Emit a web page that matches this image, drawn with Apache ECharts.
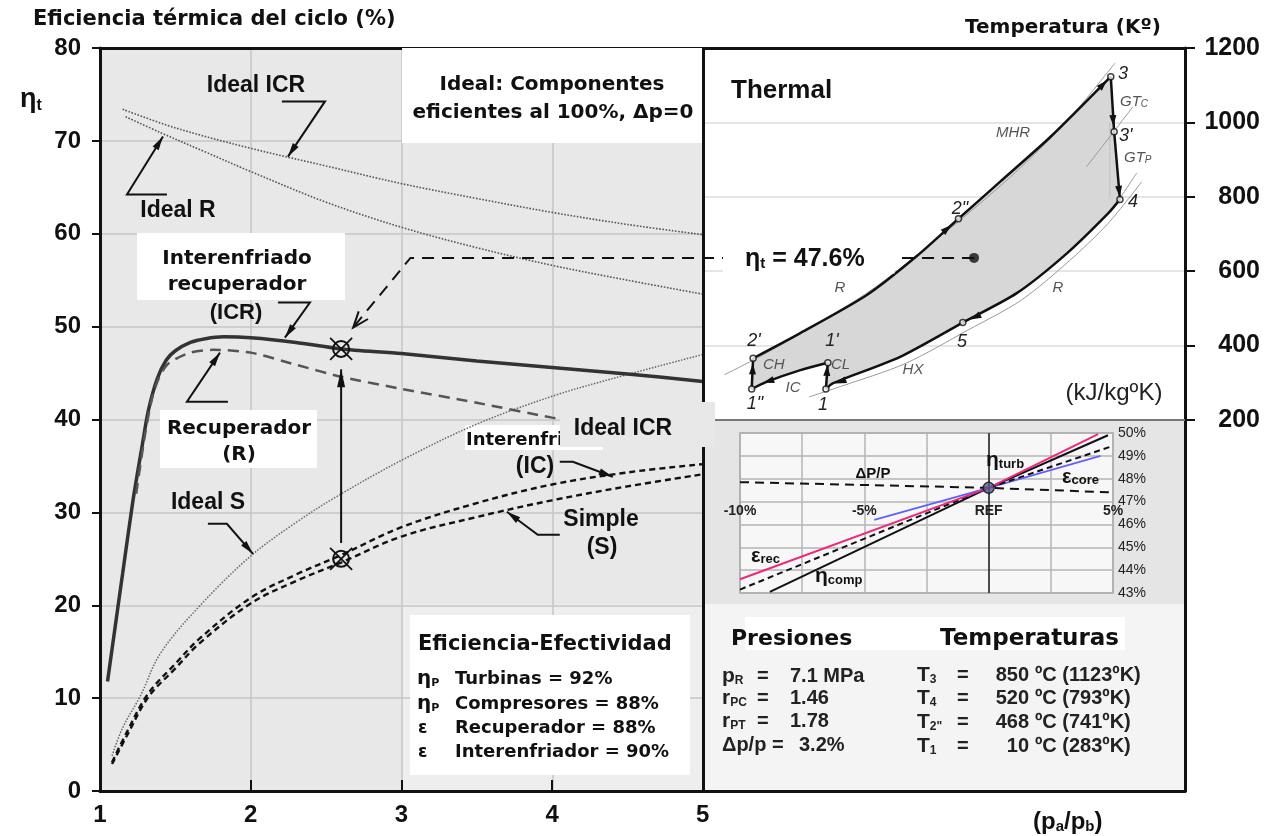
<!DOCTYPE html>
<html>
<head>
<meta charset="utf-8">
<script src="https://cdn.jsdelivr.net/npm/echarts@6/dist/echarts.min.js"></script>
<style>html,body{margin:0;padding:0;background:#fff}#c{width:1271px;height:836px}</style>
</head>
<body>
<div id="c"></div>
<script>
// ---------- efficiency vs. pressure ratio ----------
const ratioTicks = [1, 2, 3, 4, 5];
const idealIcr = [[1.15,73.4],[1.5,71.4],[2.0,69.2],[2.5,67.3],[3.0,65.4],[3.5,63.8],[4.0,62.3],[4.5,61.0],[5.0,59.9]];
const idealR = [[1.17,72.6],[1.4,70.9],[1.7,68.8],[2.0,66.7],[2.5,63.4],[3.0,60.7],[3.5,58.5],[4.0,56.6],[4.5,55.0],[5.0,53.5]];
const idealS = [[1.08,3.8],[1.15,6.8],[1.27,10.3],[1.4,14.8],[1.66,19.9],[2.0,25.3],[2.3,28.9],[2.57,31.7],[3.0,35.6],[3.5,39.5],[4.0,42.5],[4.4,44.4],[5.0,47.0]];
const icr = [[1.05,11.8],[1.1,17.6],[1.15,23.4],[1.22,31.4],[1.28,37.2],[1.32,40.9],[1.38,44.4],[1.44,46.4],[1.5,47.4],[1.6,48.3],[1.7,48.7],[1.82,48.9],[2.0,48.8],[2.3,48.3],[2.6,47.6],[3.0,47.1],[3.5,46.3],[4.0,45.6],[4.5,44.9],[5.0,44.1]];
const recuperated = [[1.24,32.0],[1.3,38.5],[1.35,42.6],[1.4,44.8],[1.46,46.1],[1.6,47.2],[1.75,47.5],[2.0,47.2],[2.3,45.9],[2.6,44.6],[3.0,43.3],[3.5,41.8],[4.0,40.2],[4.5,38.8],[5.0,37.4]];
const intercooled = [[1.08,3.1],[1.18,6.4],[1.32,10.5],[1.5,13.7],[1.66,16.4],[2.0,20.8],[2.3,23.3],[2.6,25.4],[3.0,28.4],[3.5,31.0],[4.0,33.0],[4.5,34.3],[5.0,35.2]];
const simple = [[1.08,2.9],[1.18,6.0],[1.32,10.1],[1.5,13.2],[1.66,15.9],[2.0,20.2],[2.3,22.6],[2.6,24.6],[3.0,27.4],[3.5,29.5],[4.0,31.3],[4.5,32.8],[5.0,34.1]];
const designPoints = [[2.6,47.6],[2.6,25.0]];
const gainArrow = [[2.6,26.7],[2.6,45.4]];
const etaLink = [[6.8,57.4],[3.06,57.4],[2.68,49.9]];
const calloutIdealIcr = [[2.207,74.25],[2.493,74.25],[2.247,68.3]];
const calloutIdealR = [[1.444,64.22],[1.179,64.22],[1.418,70.47]];
const calloutIcr = [[2.181,52.59],[2.393,52.59],[2.227,48.81]];
const calloutR = [[1.849,41.92],[1.577,41.92],[1.796,47.2]];
const calloutIdealS = [[1.716,28.77],[1.842,28.77],[2.015,25.54]];
const calloutIc = [[4.051,35.45],[4.138,35.45],[4.403,33.84]];
const calloutS = [[4.051,27.59],[3.905,27.59],[3.70,30.06]];

// ---------- T-s cycle (entropy, K) ----------
const tsHeating = [[1.04,366],[2.01,433],[3.40,536],[4.43,640],[5.30,741],[6.16,840],[7.20,960],[8.46,1123]];
const tsExpansion = [[8.46,1123],[8.53,975],[8.65,793]];
const tsCooling = [[8.65,793],[8.41,756],[7.55,648],[6.51,541],[5.39,462],[4.09,370],[2.70,299],[2.55,283]];
const tsCompLow = [[2.55,283],[2.59,354]];
const tsIntercool = [[2.59,354],[2.02,334],[1.33,303],[1.01,283]];
const tsCompHigh = [[1.01,283],[1.04,366]];
const tsStates = [[8.46,1123],[8.53,975],[8.65,793],[5.39,462],[5.30,741],[1.04,366],[2.59,354],[1.01,283],[2.55,283]];
const tsIsoHigh = [[0.45,322],[1.2,372],[2.2,446],[3.5,550],[4.6,660],[5.6,766],[6.6,880],[7.6,1010],[8.55,1160]];
const tsIsoLow = [[2.2,262],[2.9,292],[4.2,352],[5.5,442],[6.6,522],[7.6,628],[8.4,728],[9.1,840]];
const tsIsoMid = [[7.96,881],[8.92,1042]];
const tsIsoOut = [[8.49,765],[9.0,864]];
const tsIsentrope = [[8.44,1000],[8.44,795]];
const tsFlow = [[4.9,695,5.15,724],[8.1,1075,8.38,1113],[8.49,1050,8.515,990],[8.6,860,8.645,800],[6.0,500,5.55,470],[3.2,320,2.75,298],[1.7,318,1.25,300],[1.02,300,1.035,352],[2.56,300,2.58,348]];
const tsMeanPoint = [[6.8,57.4]];

// ---------- sensitivity (% change vs. cycle efficiency %) ----------
const sensEpsRec = [[-10,43.6],[0,47.6],[4.4,49.95]];
const sensEtaTurb = [[-10,43.15],[0,47.6],[4.9,49.4]];
const sensEtaComp = [[-8.8,43.05],[0,47.6],[4.8,49.9]];
const sensEpsCore = [[-4.6,46.2],[0,47.6],[4.5,49.0]];
const sensDpp = [[-10,47.85],[0,47.6],[5,47.4]];
const sensRef = [[0,47.6]];

const LS = '"Liberation Sans", Arial, sans-serif';
const DV = '"DejaVu Sans", Verdana, sans-serif';
const INK = '#111';

const chart = echarts.init(document.getElementById('c'), null, {renderer: 'canvas', width: 1271, height: 836});

function headPoints(x1, y1, x2, y2, len, half) {
  const a = Math.atan2(y2 - y1, x2 - x1);
  const bx = x2 - len * Math.cos(a), by = y2 - len * Math.sin(a);
  const nx = -Math.sin(a) * half, ny = Math.cos(a) * half;
  return [[x2, y2], [bx + nx, by + ny], [bx - nx, by - ny]];
}

// polyline with an arrowhead at its last point
function pathSeries(pts, o) {
  o = o || {};
  const color = o.color || INK, lw = o.width || 2;
  return {
    type: 'custom', xAxisIndex: o.xi || 0, yAxisIndex: o.yi || 0, data: pts, z: o.z || 4, silent: true, clip: false,
    renderItem(params, api) {
      if (params.dataIndex !== 0) return null;
      const P = pts.map(p => api.coord(p));
      const ch = [{type: 'polyline', shape: {points: P}, style: {stroke: color, lineWidth: lw, fill: 'none', lineDash: o.dash || null}}];
      const n = P.length;
      if (o.head !== 'none') {
        const H = headPoints(P[n - 2][0], P[n - 2][1], P[n - 1][0], P[n - 1][1], o.len || 14, o.half || 3.5);
        if (o.head === 'open') {
          ch.push({type: 'polyline', shape: {points: [H[1], H[0], H[2]]}, style: {stroke: color, lineWidth: lw, fill: 'none'}});
        } else {
          ch.push({type: 'polygon', shape: {points: H}, style: {fill: color, stroke: 'none'}});
        }
      }
      return {type: 'group', children: ch};
    }
  };
}

function curve(data, style, extra) {
  return Object.assign({
    type: 'line', xAxisIndex: 0, yAxisIndex: 0, data: data, showSymbol: false, symbol: 'none',
    smooth: 0.35, silent: true, lineStyle: style, z: 3
  }, extra || {});
}

function tsLine(data, smooth) {
  return {type: 'line', xAxisIndex: 3, yAxisIndex: 3, data: data, showSymbol: false, symbol: 'none', smooth: smooth || 0,
    silent: true, z: 5, lineStyle: {color: INK, width: 2.5}};
}

function thinLine(data, xi, yi, style) {
  return {type: 'line', xAxisIndex: xi, yAxisIndex: yi, data: data, showSymbol: false, symbol: 'none', smooth: 0.3,
    silent: true, z: 3, lineStyle: style};
}

const rect = (x, y, w, h, fill, z) => ({type: 'rect', silent: true, z: z, shape: {x: x, y: y, width: w, height: h}, style: {fill: fill}});
function txt(x, y, text, font, extra) {
  const st = Object.assign({text: text, font: font, fill: INK, align: 'left', verticalAlign: 'middle'}, extra || {});
  return {type: 'text', x: x, y: y, z: 12, silent: true, style: st};
}
function rich(x, y, text, richDef, extra) {
  const st = Object.assign({text: text, rich: richDef, fill: INK, align: 'left', verticalAlign: 'middle'}, extra || {});
  return {type: 'text', x: x, y: y, z: 12, silent: true, style: st};
}
const sub = (main, subSize, fam, weight, color) => ({
  m: {fontSize: main, fontFamily: fam || LS, fontWeight: weight || 'bold', fill: color || INK},
  s: {fontSize: subSize, fontFamily: fam || LS, fontWeight: weight || 'bold', fill: color || INK, verticalAlign: 'bottom'}
});
const gtRich = {
  m: {fontSize: 15, fontFamily: LS, fontStyle: 'italic', fill: '#555'},
  s: {fontSize: 10, fontFamily: LS, fontStyle: 'italic', fill: '#555', verticalAlign: 'bottom'}
};

const labelFont = {color: INK, fontFamily: LS, fontWeight: 'bold', fontSize: 24};
const TAB = 'bold 20px ' + LS;
const TABC = {fill: '#222'};

const option = {
  backgroundColor: '#ffffff',
  animation: false,
  grid: [
    {left: 100, top: 48, width: 1085, height: 743, outerBoundsMode: 'none', containLabel: false},
    {left: 100, top: 48, width: 603, height: 743, outerBoundsMode: 'none', containLabel: false},
    {left: 703, top: 48, width: 482, height: 372, outerBoundsMode: 'none', containLabel: false},
    {left: 740, top: 433, width: 373, height: 160, outerBoundsMode: 'none', containLabel: false,
      show: true, backgroundColor: '#f7f7f7', borderColor: '#9a9a9a', borderWidth: 1.5}
  ],
  xAxis: [
    {gridIndex: 0, type: 'value', min: 1, max: 8.2, interval: 1, position: 'bottom',
      axisLine: {show: true, onZero: false, lineStyle: {color: INK, width: 3}},
      axisTick: {show: true, inside: true, length: 11, customValues: ratioTicks, lineStyle: {color: INK, width: 2}},
      axisLabel: Object.assign({customValues: ratioTicks, margin: 12, formatter: v => (v <= 5 ? String(v) : '')}, labelFont),
      splitLine: {show: false}},
    {gridIndex: 0, type: 'value', min: 1, max: 8.2, position: 'top',
      axisLine: {show: true, onZero: false, lineStyle: {color: INK, width: 3}},
      axisTick: {show: false}, axisLabel: {show: false}, splitLine: {show: false}},
    {gridIndex: 1, type: 'value', min: 1, max: 5, interval: 1,
      axisLine: {show: false}, axisTick: {show: false}, axisLabel: {show: false},
      splitLine: {show: true, lineStyle: {color: '#c6c6c6', width: 1.5}}},
    {gridIndex: 2, type: 'value', min: 0, max: 10,
      axisLine: {show: true, onZero: false, lineStyle: {color: '#777', width: 2}},
      axisTick: {show: false}, axisLabel: {show: false}, splitLine: {show: false}},
    {gridIndex: 3, type: 'value', min: -10, max: 5, interval: 2.5, position: 'bottom', offset: -97,
      axisLine: {show: false}, axisTick: {show: false},
      axisLabel: {margin: 8, color: '#222', fontFamily: LS, fontWeight: 'bold', fontSize: 14,
        formatter: v => (v === 0 ? 'REF' : (v % 5 === 0 ? v + '%' : ''))},
      splitLine: {show: true, lineStyle: {color: '#b4b4b4', width: 1.5}}}
  ],
  yAxis: [
    {gridIndex: 0, type: 'value', min: 0, max: 80, interval: 10, position: 'left',
      axisLine: {show: true, onZero: false, lineStyle: {color: INK, width: 3}},
      axisTick: {show: true, length: 8, lineStyle: {color: INK, width: 2}},
      axisLabel: Object.assign({margin: 19}, labelFont), splitLine: {show: false}},
    {gridIndex: 0, type: 'value', min: 0, max: 80, position: 'right',
      axisLine: {show: true, onZero: false, lineStyle: {color: INK, width: 3}},
      axisTick: {show: false}, axisLabel: {show: false}, splitLine: {show: false}},
    {gridIndex: 1, type: 'value', min: 0, max: 80, interval: 10, position: 'left',
      axisLine: {show: false}, axisTick: {show: false}, axisLabel: {show: false},
      splitLine: {show: true, lineStyle: {color: '#c6c6c6', width: 1.5}}},
    {gridIndex: 2, type: 'value', min: 200, max: 1200, interval: 200, position: 'right',
      axisLine: {show: false, onZero: false}, axisTick: {show: true, inside: false, length: 10, lineStyle: {color: INK, width: 2}},
      axisLabel: {margin: 75, align: 'right', formatter: v => String(v), color: INK, fontFamily: LS, fontWeight: 'bold', fontSize: 25},
      splitLine: {show: true, lineStyle: {color: '#dcdcdc', width: 1.5}}},
    {gridIndex: 3, type: 'value', min: 43, max: 50, interval: 1, position: 'right',
      axisLine: {show: false}, axisTick: {show: false},
      axisLabel: {margin: 5, color: '#222', fontFamily: LS, fontSize: 14, formatter: '{value}%'},
      splitLine: {show: true, lineStyle: {color: '#b4b4b4', width: 1.5}}}
  ],
  series: [
    curve(idealIcr, {color: '#555', width: 1.6, type: 'dotted'}),
    curve(idealR, {color: '#555', width: 1.6, type: 'dotted'}),
    curve(idealS, {color: '#666', width: 1.5, type: 'dotted'}),
    curve(icr, {color: '#333', width: 3.5}, {smooth: 0.25, markLine: {
      silent: true, symbol: 'none', label: {show: false},
      lineStyle: {color: INK, width: 3, type: 'solid'}, data: [{xAxis: 5}]}}),
    curve(recuperated, {color: '#555', width: 2.5, type: [11, 7]}, {smooth: 0.25}),
    curve(intercooled, {color: INK, width: 2.4, type: [6, 4]}),
    curve(simple, {color: INK, width: 2.4, type: [6, 4]}),
    pathSeries(calloutIdealIcr, {width: 2}),
    pathSeries(calloutIdealR, {width: 2}),
    pathSeries(calloutIcr, {width: 2}),
    pathSeries(calloutR, {width: 2}),
    pathSeries(calloutIdealS, {width: 2}),
    pathSeries(calloutIc, {width: 2}),
    pathSeries(calloutS, {width: 2}),
    pathSeries(gainArrow, {width: 2, len: 18, half: 4}),
    pathSeries(etaLink, {width: 2, dash: [12, 8], head: 'open', len: 16, half: 6}),
    {type: 'scatter', xAxisIndex: 0, yAxisIndex: 0, data: tsMeanPoint, symbol: 'circle', symbolSize: 10,
      itemStyle: {color: INK}, silent: true, z: 6},
    {type: 'custom', xAxisIndex: 0, yAxisIndex: 0, data: designPoints, silent: true, z: 6,
      renderItem(params, api) {
        const c = api.coord([api.value(0), api.value(1)]);
        const r = 8, d = 11;
        return {type: 'group', children: [
          {type: 'circle', shape: {cx: c[0], cy: c[1], r: r}, style: {stroke: INK, lineWidth: 2, fill: 'none'}},
          {type: 'line', shape: {x1: c[0] - d, y1: c[1] - d, x2: c[0] + d, y2: c[1] + d}, style: {stroke: INK, lineWidth: 1.8}},
          {type: 'line', shape: {x1: c[0] - d, y1: c[1] + d, x2: c[0] + d, y2: c[1] - d}, style: {stroke: INK, lineWidth: 1.8}}
        ]};
      }},

    // T-s cycle: shaded area, guide lines, path, flow arrows, state points
    {type: 'custom', xAxisIndex: 3, yAxisIndex: 3, silent: true, z: 2,
      data: tsHeating.concat(tsExpansion, tsCooling, tsCompLow, tsIntercool, tsCompHigh),
      renderItem(params, api) {
        if (params.dataIndex !== 0) return null;
        const all = tsHeating.concat(tsExpansion, tsCooling, tsCompLow, tsIntercool, tsCompHigh);
        return {type: 'polygon', shape: {points: all.map(p => api.coord(p))}, style: {fill: '#d7d7d7', stroke: 'none'}};
      }},
    thinLine(tsIsoHigh, 3, 3, {color: '#9a9a9a', width: 1}),
    thinLine(tsIsoLow, 3, 3, {color: '#9a9a9a', width: 1}),
    thinLine(tsIsoMid, 3, 3, {color: '#9a9a9a', width: 1}),
    thinLine(tsIsoOut, 3, 3, {color: '#9a9a9a', width: 1}),
    thinLine(tsIsentrope, 3, 3, {color: '#aaa', width: 1, type: 'dotted'}),
    tsLine(tsHeating, 0.25),
    tsLine(tsExpansion, 0),
    tsLine(tsCooling, 0.25),
    tsLine(tsCompLow, 0),
    tsLine(tsIntercool, 0.3),
    tsLine(tsCompHigh, 0),
    {type: 'custom', xAxisIndex: 3, yAxisIndex: 3, data: tsFlow, silent: true, z: 6,
      encode: {x: [0, 2], y: [1, 3]},
      renderItem(params, api) {
        const a = api.coord([api.value(0), api.value(1)]);
        const b = api.coord([api.value(2), api.value(3)]);
        return {type: 'polygon', shape: {points: headPoints(a[0], a[1], b[0], b[1], 11, 3.5)}, style: {fill: INK, stroke: 'none'}};
      }},
    {type: 'scatter', xAxisIndex: 3, yAxisIndex: 3, data: tsStates, symbol: 'circle', symbolSize: 6, silent: true, z: 7,
      itemStyle: {color: '#fff', borderColor: INK, borderWidth: 1.5}},

    // sensitivity lines
    {type: 'line', xAxisIndex: 4, yAxisIndex: 4, data: sensDpp, showSymbol: false, symbol: 'none', silent: true, z: 3,
      lineStyle: {color: INK, width: 2, type: [9, 6]}},
    {type: 'line', xAxisIndex: 4, yAxisIndex: 4, data: sensEpsCore, showSymbol: false, symbol: 'none', silent: true, z: 3,
      lineStyle: {color: '#6060ff', width: 1.6}},
    {type: 'line', xAxisIndex: 4, yAxisIndex: 4, data: sensEtaComp, showSymbol: false, symbol: 'none', silent: true, z: 3,
      lineStyle: {color: INK, width: 2}},
    {type: 'line', xAxisIndex: 4, yAxisIndex: 4, data: sensEtaTurb, showSymbol: false, symbol: 'none', silent: true, z: 3,
      lineStyle: {color: INK, width: 2, type: [6, 4]}},
    {type: 'line', xAxisIndex: 4, yAxisIndex: 4, data: sensEpsRec, showSymbol: false, symbol: 'none', silent: true, z: 3,
      lineStyle: {color: '#f0287c', width: 2},
      markLine: {silent: true, symbol: 'none', label: {show: false}, lineStyle: {color: '#222', width: 1.5, type: 'solid'}, data: [{xAxis: 0}]}},
    {type: 'scatter', xAxisIndex: 4, yAxisIndex: 4, data: sensRef, symbol: 'circle', symbolSize: 11, silent: true, z: 6,
      itemStyle: {color: '#5a5a8c', borderColor: INK, borderWidth: 1.5}}
  ],
  graphic: [
    // panel backgrounds
    rect(100, 48, 603, 743, '#e8e8e8', -5),
    rect(402, 604, 301, 187, '#eeeeee', -5),
    rect(703, 48, 482, 372, '#ffffff', -5),
    rect(703, 420, 482, 184, '#e5e5e5', -5),
    rect(703, 604, 482, 187, '#f4f4f4', -5),
    // label boxes
    rect(402, 48, 301, 95, '#ffffff', 1),
    rect(137, 233, 208, 67, '#ffffff', 1),
    rect(160, 410, 157, 58, '#ffffff', 1),
    rect(465, 425, 138, 25, '#ffffff', 1),
    rect(410, 615, 280, 160, '#ffffff', 1),
    rect(745, 617, 380, 33, '#ffffff', 1),

    // titles
    txt(33, 20, 'Eficiencia térmica del ciclo (%)', 'bold 21px ' + DV),
    txt(965, 28, 'Temperatura (Kº)', 'bold 20px ' + DV),
    rich(20, 100, '{m|η}{s|t}', sub(27, 16)),
    rich(1033, 822, '{m|(p}{s|a}{m|/p}{s|b}{m|)}', sub(24, 15)),

    // left panel labels
    txt(552, 85, 'Ideal: Componentes', 'bold 20px ' + DV, {align: 'center'}),
    txt(553, 113, 'eficientes al 100%, Δp=0', 'bold 20px ' + DV, {align: 'center'}),
    txt(256, 86, 'Ideal ICR', 'bold 23px ' + LS, {align: 'center'}),
    txt(178, 211, 'Ideal R', 'bold 23px ' + LS, {align: 'center'}),
    txt(237, 259, 'Interenfriado', 'bold 20px ' + DV, {align: 'center'}),
    txt(237, 285, 'recuperador', 'bold 20px ' + DV, {align: 'center'}),
    txt(236, 313, '(ICR)', 'bold 22px ' + LS, {align: 'center'}),
    txt(239, 429, 'Recuperador', 'bold 20px ' + DV, {align: 'center'}),
    txt(239, 455, '(R)', 'bold 20px ' + DV, {align: 'center'}),
    txt(208, 503, 'Ideal S', 'bold 23px ' + LS, {align: 'center'}),
    Object.assign(txt(466, 440, 'Interenfriado', 'bold 18px ' + DV), {z: 8}),
    {type: 'rect', silent: true, z: 9, shape: {x: 560, y: 402, width: 155, height: 45}, style: {fill: '#e8e8e8'}},
    txt(623, 429, 'Ideal ICR', 'bold 23px ' + LS, {align: 'center'}),
    txt(535, 467, '(IC)', 'bold 23px ' + LS, {align: 'center'}),
    txt(601, 520, 'Simple', 'bold 23px ' + LS, {align: 'center'}),
    txt(602, 548, '(S)', 'bold 23px ' + LS, {align: 'center'}),

    // component efficiencies
    txt(418, 645, 'Eficiencia-Efectividad', 'bold 21px ' + DV),
    rich(417, 679, '{m|η}{s|P}', sub(20, 11, DV)),
    rich(417, 704, '{m|η}{s|P}', sub(20, 11, DV)),
    txt(418, 729, 'ε', 'bold 17px ' + DV),
    txt(418, 753, 'ε', 'bold 17px ' + DV),
    txt(455, 679, 'Turbinas = 92%', 'bold 18px ' + DV),
    txt(455, 704, 'Compresores = 88%', 'bold 18px ' + DV),
    txt(455, 728, 'Recuperador = 88%', 'bold 18px ' + DV),
    txt(455, 752, 'Interenfriador = 90%', 'bold 18px ' + DV),

    // pressures and temperatures
    txt(731, 639, 'Presiones', 'bold 22px ' + DV),
    txt(940, 639, 'Temperaturas', 'bold 23px ' + DV),
    rich(722, 676, '{m|p}{s|R}', sub(21, 12, LS, 'bold', '#222')),
    rich(722, 698, '{m|r}{s|PC}', sub(21, 12, LS, 'bold', '#222')),
    rich(722, 721, '{m|r}{s|PT}', sub(21, 12, LS, 'bold', '#222')),
    txt(757, 676, '=', TAB, TABC),
    txt(757, 698, '=', TAB, TABC),
    txt(757, 721, '=', TAB, TABC),
    txt(790, 676, '7.1 MPa', TAB, TABC),
    txt(790, 698, '1.46', TAB, TABC),
    txt(790, 721, '1.78', TAB, TABC),
    txt(722, 745, 'Δp/p =', TAB, TABC),
    txt(799, 745, '3.2%', TAB, TABC),
    rich(917, 675, '{m|T}{s|3}', sub(21, 12, LS, 'bold', '#222')),
    rich(917, 698, '{m|T}{s|4}', sub(21, 12, LS, 'bold', '#222')),
    rich(917, 722, '{m|T}{s|2"}', sub(21, 12, LS, 'bold', '#222')),
    rich(917, 746, '{m|T}{s|1}', sub(21, 12, LS, 'bold', '#222')),
    txt(957, 675, '=', TAB, TABC),
    txt(957, 698, '=', TAB, TABC),
    txt(957, 722, '=', TAB, TABC),
    txt(957, 746, '=', TAB, TABC),
    txt(1029, 675, '850', TAB, Object.assign({align: 'right'}, TABC)),
    txt(1029, 698, '520', TAB, Object.assign({align: 'right'}, TABC)),
    txt(1029, 722, '468', TAB, Object.assign({align: 'right'}, TABC)),
    txt(1029, 746, '10', TAB, Object.assign({align: 'right'}, TABC)),
    txt(1035, 675, 'ºC (1123ºK)', TAB, TABC),
    txt(1035, 698, 'ºC (793ºK)', TAB, TABC),
    txt(1035, 722, 'ºC (741ºK)', TAB, TABC),
    txt(1035, 746, 'ºC (283ºK)', TAB, TABC),

    // T-s diagram labels
    txt(731, 91, 'Thermal', 'bold 26px ' + LS),
    rich(723, 259, '{m|η}{s|t}{m| = 47.6%}', sub(25, 15),
      {backgroundColor: '#ffffff', padding: [2, 30, 2, 22]}),
    txt(1114, 393, '(kJ/kgºK)', '24px ' + LS, {align: 'center', fill: '#222'}),
    txt(1118, 74, '3', 'italic 18px ' + LS, {fill: '#222'}),
    rich(1120, 102, '{m|GT}{s|C}', gtRich),
    txt(1119, 136, "3'", 'italic 18px ' + LS, {fill: '#222'}),
    rich(1124, 158, '{m|GT}{s|P}', gtRich),
    txt(1128, 202, '4', 'italic 18px ' + LS, {fill: '#222'}),
    txt(1013, 133, 'MHR', 'italic 15px ' + LS, {fill: '#555', align: 'center'}),
    txt(960, 209, '2"', 'italic 18px ' + LS, {fill: '#222', align: 'center'}),
    txt(840, 288, 'R', 'italic 15px ' + LS, {fill: '#555', align: 'center'}),
    txt(1058, 288, 'R', 'italic 15px ' + LS, {fill: '#555', align: 'center'}),
    txt(962, 342, '5', 'italic 18px ' + LS, {fill: '#222', align: 'center'}),
    txt(754, 341, "2'", 'italic 18px ' + LS, {fill: '#222', align: 'center'}),
    txt(832, 341, "1'", 'italic 18px ' + LS, {fill: '#222', align: 'center'}),
    txt(763, 365, 'CH', 'italic 15px ' + LS, {fill: '#555'}),
    txt(831, 365, 'CL', 'italic 15px ' + LS, {fill: '#555'}),
    txt(793, 388, 'IC', 'italic 15px ' + LS, {fill: '#555', align: 'center'}),
    txt(913, 370, 'HX', 'italic 15px ' + LS, {fill: '#555', align: 'center'}),
    txt(755, 404, '1"', 'italic 18px ' + LS, {fill: '#222', align: 'center'}),
    txt(823, 405, '1', 'italic 18px ' + LS, {fill: '#222', align: 'center'}),

    // sensitivity labels
    txt(873, 474, 'ΔP/P', 'bold 15px ' + LS, {align: 'center'}),
    rich(986, 460, '{m|η}{s|turb}', sub(21, 13)),
    rich(1062, 477, '{m|ε}{s|core}', sub(20, 13)),
    rich(751, 556, '{m|ε}{s|rec}', sub(20, 13)),
    rich(815, 576, '{m|η}{s|comp}', sub(21, 13))
  ]
};

chart.setOption(option);
</script>
</body>
</html>
